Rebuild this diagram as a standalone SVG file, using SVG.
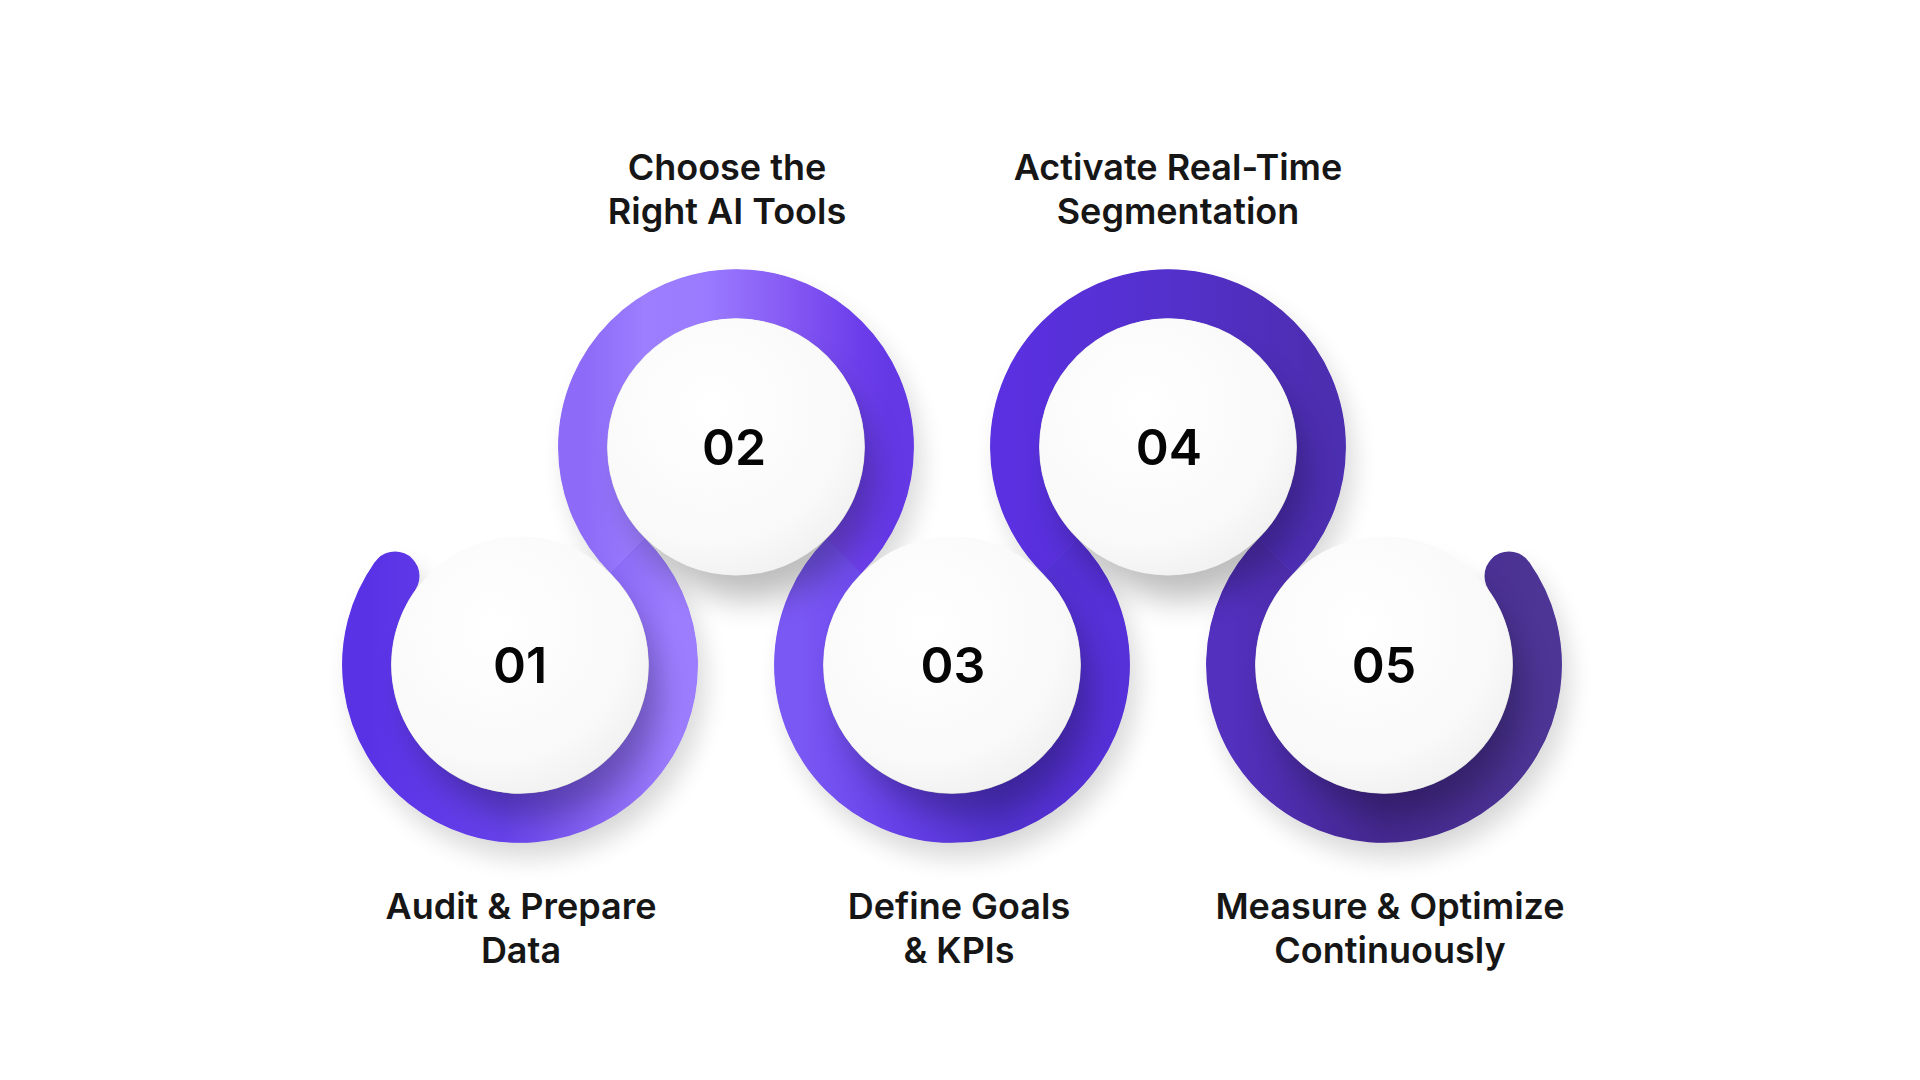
<svg xmlns="http://www.w3.org/2000/svg" width="1920" height="1080" viewBox="0 0 1920 1080">
  <style>
    .ring { fill: none; stroke-width: 49; stroke-linecap: butt; }
    .sphere { fill: url(#sphereGrad); }
    .num { font-family: Inter, "Noto Sans", "Liberation Sans", sans-serif; font-weight: 600; font-size: 50px; fill: #050505; text-anchor: middle; }
    .label { font-family: Inter, "Noto Sans", "Liberation Sans", sans-serif; font-weight: 600; font-size: 36px; fill: #161616; text-anchor: middle; }
    .shadow { fill: #000; opacity: 0.26; filter: url(#blurS); }
  </style>
  <defs>
    <filter id="blurS" x="-50%" y="-50%" width="200%" height="200%">
      <feGaussianBlur stdDeviation="16"/>
    </filter>
    <filter id="blurR" x="-20%" y="-20%" width="140%" height="140%">
      <feGaussianBlur stdDeviation="12"/>
    </filter>
    <radialGradient id="sphereGrad" cx="0.4" cy="0.35" r="0.78">
      <stop offset="0" stop-color="#ffffff"/>
      <stop offset="0.68" stop-color="#f9f9f9"/>
      <stop offset="0.9" stop-color="#f0f0f0"/>
      <stop offset="1" stop-color="#e2e2e2"/>
    </radialGradient>
    <linearGradient id="g1" gradientUnits="userSpaceOnUse" x1="367" y1="0" x2="673" y2="0">
      <stop offset="0" stop-color="#5a32e6"/>
      <stop offset="0.45" stop-color="#6642ea"/>
      <stop offset="0.78" stop-color="#8a68f6"/>
      <stop offset="1" stop-color="#9c7dfe"/>
    </linearGradient>
    <linearGradient id="g2" gradientUnits="userSpaceOnUse" x1="583" y1="0" x2="890" y2="0">
      <stop offset="0" stop-color="#8d6af7"/>
      <stop offset="0.2" stop-color="#9c7eff"/>
      <stop offset="0.4" stop-color="#9a7bff"/>
      <stop offset="0.68" stop-color="#8558f3"/>
      <stop offset="0.9" stop-color="#6c3eeb"/>
      <stop offset="1" stop-color="#6538e6"/>
    </linearGradient>
    <linearGradient id="g3" gradientUnits="userSpaceOnUse" x1="800" y1="0" x2="1106" y2="0">
      <stop offset="0" stop-color="#7a58f4"/>
      <stop offset="0.33" stop-color="#6540e8"/>
      <stop offset="0.66" stop-color="#5232d0"/>
      <stop offset="1" stop-color="#5630d8"/>
    </linearGradient>
    <linearGradient id="g4" gradientUnits="userSpaceOnUse" x1="1015" y1="0" x2="1322" y2="0">
      <stop offset="0" stop-color="#5a30e0"/>
      <stop offset="0.5" stop-color="#5430cc"/>
      <stop offset="1" stop-color="#4c2eb0"/>
    </linearGradient>
    <linearGradient id="g5" gradientUnits="userSpaceOnUse" x1="1230" y1="0" x2="1538" y2="0">
      <stop offset="0" stop-color="#5330be"/>
      <stop offset="0.5" stop-color="#45288f"/>
      <stop offset="1" stop-color="#4c3595"/>
    </linearGradient>
  </defs>

  <rect width="1920" height="1080" fill="#ffffff"/>

  <!-- ring shadow -->
  <path d="M 395 576 A 153.4 153.4 0 1 0 628 556 A 153.4 153.4 0 1 1 844 556 A 153.4 153.4 0 1 0 1060 556 A 153.4 153.4 0 1 1 1276 556 A 153.4 153.4 0 1 0 1509 576" fill="none" stroke="#000" stroke-width="49" stroke-linecap="round" opacity="0.14" transform="translate(8 16)" filter="url(#blurR)"/>

  <g id="connectors">
    <path d="M 395 576 A 153.4 153.4 0 1 0 628 556 A 153.4 153.4 0 1 1 844 556 A 153.4 153.4 0 1 0 1060 556 A 153.4 153.4 0 1 1 1276 556 A 153.4 153.4 0 1 0 1509 576" fill="none" stroke="#6a44e6" stroke-width="48" stroke-linecap="butt"/>
    <path class="ring" stroke="url(#g1)" d="M 395 576 A 153.4 153.4 0 1 0 628 556"/>
    <path class="ring" stroke="url(#g2)" d="M 628 556 A 153.4 153.4 0 1 1 844 556"/>
    <path class="ring" stroke="url(#g3)" d="M 844 556 A 153.4 153.4 0 1 0 1060 556"/>
    <path class="ring" stroke="url(#g4)" d="M 1060 556 A 153.4 153.4 0 1 1 1276 556"/>
    <path class="ring" stroke="url(#g5)" d="M 1276 556 A 153.4 153.4 0 1 0 1509 576"/>
    <circle cx="395" cy="576" r="24.5" fill="url(#g1)"/>
    <circle cx="1509" cy="576" r="24.5" fill="url(#g5)"/>
  </g>

  <g id="sphere-shadows">
    <circle class="shadow" cx="534" cy="693" r="124"/>
    <circle class="shadow" cx="750" cy="475" r="124"/>
    <circle class="shadow" cx="966" cy="693" r="124"/>
    <circle class="shadow" cx="1182" cy="475" r="124"/>
    <circle class="shadow" cx="1398" cy="693" r="124"/>
  </g>

  <g id="node-01">
    <circle class="sphere" cx="520" cy="665" r="128.5"/>
    <text class="num" x="520" y="683">01</text>
    <text class="label" x="521" y="919">Audit &amp; Prepare</text>
    <text class="label" x="521" y="963">Data</text>
  </g>
  <g id="node-02">
    <circle class="sphere" cx="736" cy="447" r="128.5"/>
    <text class="num" x="734" y="465">02</text>
    <text class="label" x="727" y="180">Choose the</text>
    <text class="label" x="727" y="224">Right AI Tools</text>
  </g>
  <g id="node-03">
    <circle class="sphere" cx="952" cy="665" r="128.5"/>
    <text class="num" x="953" y="683">03</text>
    <text class="label" x="959" y="919">Define Goals</text>
    <text class="label" x="959" y="963">&amp; KPIs</text>
  </g>
  <g id="node-04">
    <circle class="sphere" cx="1168" cy="447" r="128.5"/>
    <text class="num" x="1169" y="465">04</text>
    <text class="label" x="1178" y="180">Activate Real-Time</text>
    <text class="label" x="1178" y="224">Segmentation</text>
  </g>
  <g id="node-05">
    <circle class="sphere" cx="1384" cy="665" r="128.5"/>
    <text class="num" x="1384" y="683">05</text>
    <text class="label" x="1390" y="919">Measure &amp; Optimize</text>
    <text class="label" x="1390" y="963">Continuously</text>
  </g>
</svg>
